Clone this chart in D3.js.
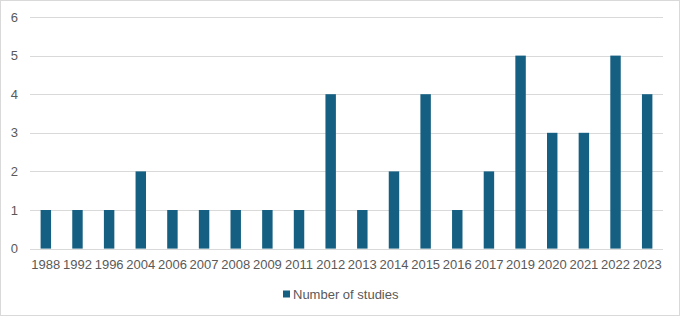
<!DOCTYPE html>
<html><head><meta charset="utf-8">
<script src="https://cdn.jsdelivr.net/npm/d3@7"></script>
<style>body{margin:0;background:#fff}svg{display:block}text{font-family:"Liberation Sans",Arial,sans-serif}</style>
</head><body>
<script>
const years = ["1988","1992","1996","2004","2006","2007","2008","2009","2011","2012","2013","2014","2015","2016","2017","2019","2020","2021","2022","2023"];
const studies = [1,1,1,2,1,1,1,1,1,4,1,2,4,1,2,5,3,3,5,4];
const yTicks = [0,1,2,3,4,5,6];
const seriesName = "Number of studies";

const W = 680, H = 316;
const svg = d3.select("body").append("svg").attr("width", W).attr("height", H);
svg.append("rect").attr("x",0.5).attr("y",0.5).attr("width",W-1).attr("height",H-1)
  .attr("fill","#fff").attr("stroke","#d9d9d9");

const x = d3.scaleBand().domain(years).range([30, 663]).paddingInner(0.67).paddingOuter(0.335);
const y = d3.scaleLinear().domain([0, 6]).range([248.6, 17]);

svg.append("g").selectAll("line").data(yTicks).join("line")
  .attr("x1", 30).attr("x2", 663)
  .attr("y1", d => Math.round(y(d)) + 0.5).attr("y2", d => Math.round(y(d)) + 0.5)
  .attr("stroke", "#d9d9d9").attr("stroke-width", 1);

svg.append("g").selectAll("text").data(yTicks).join("text")
  .attr("x", 18).attr("y", d => y(d)).attr("dy", "0.35em")
  .attr("text-anchor", "end").attr("font-size", 13).attr("fill", "#595959")
  .text(d => d);

svg.append("g").selectAll("rect").data(years).join("rect")
  .attr("x", d => x(d)).attr("width", x.bandwidth())
  .attr("y", (d,i) => y(studies[i])).attr("height", (d,i) => y(0) - y(studies[i]))
  .attr("fill", "#156082");

const xa = svg.append("g").attr("transform", "translate(0,249)")
  .call(d3.axisBottom(x).tickSize(0).tickPadding(11));
xa.select(".domain").remove();
xa.selectAll("text").attr("font-size", 13).attr("fill", "#595959")
  .attr("font-family", '"Liberation Sans",Arial,sans-serif');

const lg = svg.append("g");
lg.append("rect").attr("x", 283).attr("y", 290.5).attr("width", 7).attr("height", 7).attr("fill", "#156082");
lg.append("text").attr("x", 293).attr("y", 294).attr("dy", "0.35em")
  .attr("font-size", 13).attr("fill", "#595959").text(seriesName);
</script>
</body></html>
